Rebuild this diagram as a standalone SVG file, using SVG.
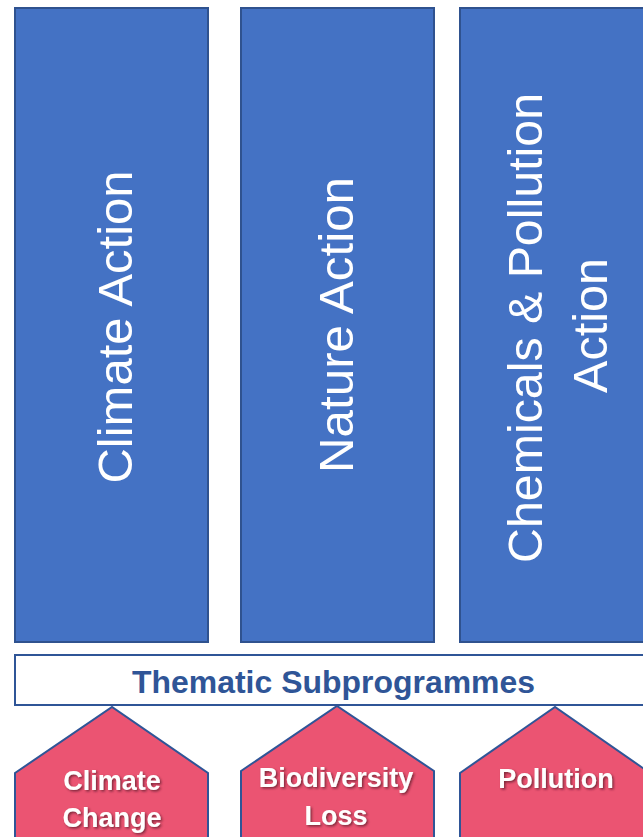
<svg xmlns="http://www.w3.org/2000/svg" width="643" height="837" viewBox="0 0 643 837">
  <defs>
    <filter id="shadow" x="-20%" y="-20%" width="140%" height="140%">
      <feDropShadow dx="1.5" dy="1.5" stdDeviation="0.8" flood-color="#5a1a26" flood-opacity="0.75"/>
    </filter>
    <style>
      .pillar { fill: #4472C4; stroke: #2F528F; stroke-width: 2; }
      .pillar-label { fill: #FFFFFF; font-family: "Liberation Sans", Arial, sans-serif; font-size: 48px; text-anchor: middle; }
      .banner { fill: #FFFFFF; stroke: #2F5597; stroke-width: 2; }
      .banner-label { fill: #2F5597; font-family: "Liberation Sans", Arial, sans-serif; font-weight: bold; font-size: 32px; text-anchor: middle; }
      .theme { fill: #EB5472; stroke: #2F5597; stroke-width: 2; stroke-linejoin: miter; }
      .theme-label { fill: #FFFFFF; font-family: "Liberation Sans", Arial, sans-serif; font-weight: bold; font-size: 27px; text-anchor: middle; filter: url(#shadow); }
    </style>
  </defs>

  <rect width="643" height="837" fill="#FFFFFF"/>

  <!-- Action pillars -->
  <g id="climate-action">
    <rect class="pillar" x="15" y="8" width="193" height="634"/>
    <text class="pillar-label" transform="translate(132,327) rotate(-90)" textLength="313" lengthAdjust="spacingAndGlyphs">Climate Action</text>
  </g>
  <g id="nature-action">
    <rect class="pillar" x="241" y="8" width="193" height="634"/>
    <text class="pillar-label" transform="translate(353,325) rotate(-90)" textLength="296" lengthAdjust="spacingAndGlyphs">Nature Action</text>
  </g>
  <g id="chemicals-pollution-action">
    <rect class="pillar" x="460" y="8" width="200" height="634"/>
    <text class="pillar-label" transform="translate(542,328) rotate(-90)" textLength="470" lengthAdjust="spacingAndGlyphs">Chemicals &amp; Pollution</text>
    <text class="pillar-label" transform="translate(607,325.5) rotate(-90)" textLength="135" lengthAdjust="spacingAndGlyphs">Action</text>
  </g>

  <!-- Banner -->
  <g id="thematic-subprogrammes">
    <rect class="banner" x="15" y="655" width="645" height="50"/>
    <text class="banner-label" x="333.5" y="693" textLength="403" lengthAdjust="spacingAndGlyphs">Thematic Subprogrammes</text>
  </g>

  <!-- Thematic pentagons -->
  <g id="climate-change">
    <polygon class="theme" points="15,773 112,707 208,773 208,850 15,850"/>
    <text class="theme-label" x="112" y="790">Climate</text>
    <text class="theme-label" x="112" y="827">Change</text>
  </g>
  <g id="biodiversity-loss">
    <polygon class="theme" points="241,771 337,706 434,771 434,850 241,850"/>
    <text class="theme-label" x="336" y="787">Biodiversity</text>
    <text class="theme-label" x="336" y="825">Loss</text>
  </g>
  <g id="pollution">
    <polygon class="theme" points="460,773 555,707 650,773 650,850 460,850"/>
    <text class="theme-label" x="556" y="788">Pollution</text>
  </g>

  <g id="connectors"/>
</svg>
